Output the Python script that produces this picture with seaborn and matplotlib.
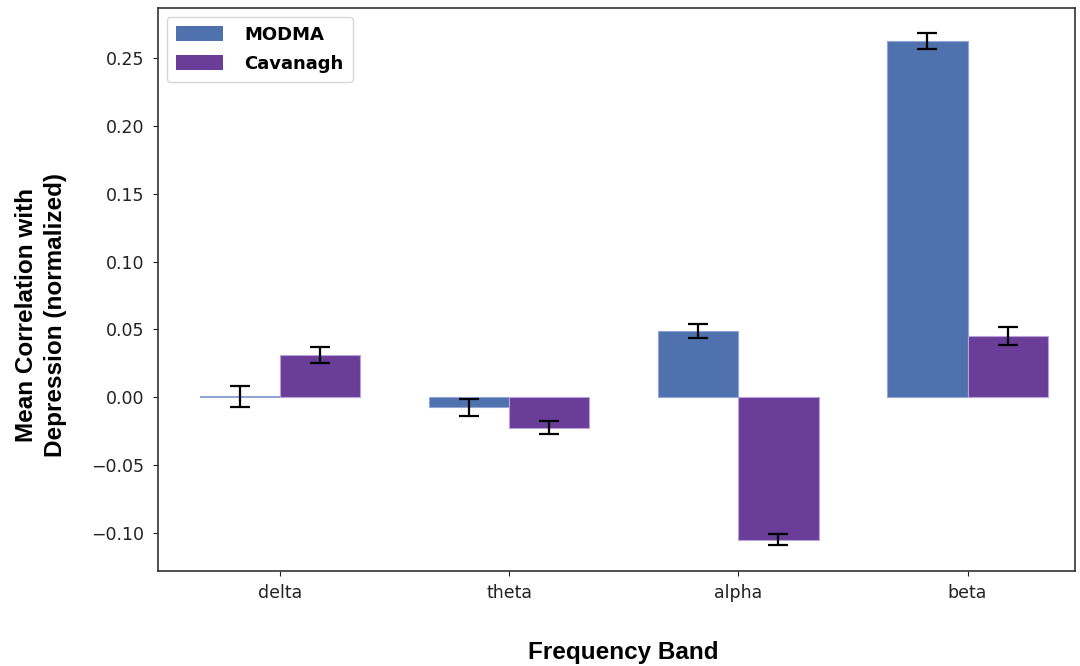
import pandas as pd
import numpy as np
import matplotlib
import matplotlib.pyplot as plt
import seaborn as sns

bands = ['delta', 'theta', 'alpha', 'beta']
datasets = ['MODMA', 'Cavanagh']
modma_mean = [0.0006, -0.0075, 0.0488, 0.2628]
modma_err = [0.0078, 0.0064, 0.0050, 0.0058]
cav_mean = [0.0310, -0.0225, -0.1050, 0.0450]
cav_err = [0.0060, 0.0050, 0.0040, 0.0068]
colors = ['#4F71AD', '#6A3D99']

df = pd.DataFrame({
    'band': bands * 2,
    'dataset': ['MODMA'] * 4 + ['Cavanagh'] * 4,
    'value': modma_mean + cav_mean,
})
errs = {'MODMA': modma_err, 'Cavanagh': cav_err}

fig = plt.figure(figsize=(10.8, 6.66), dpi=100)
ax = fig.add_axes([0.146, 0.143, 0.849, 0.845])

sns.barplot(data=df, x='band', y='value', hue='dataset', order=bands,
            hue_order=datasets, palette=colors, saturation=1, errorbar=None,
            width=0.7, linewidth=0.8, ax=ax)

# light outline in a paler shade of each bar colour
for cont, c in zip(ax.containers, ['#8fa6d6', '#b9a3d9']):
    for p in cont.patches:
        p.set_edgecolor(c)

# error bars at the bar centres
for cont, name in zip(ax.containers, datasets):
    xs = [p.get_x() + p.get_width() / 2 for p in cont.patches]
    ys = [p.get_height() for p in cont.patches]
    ax.errorbar(xs, ys, yerr=errs[name], fmt='none', ecolor='black',
                elinewidth=1.6, capsize=7, capthick=1.6)

ax.set_xlim(-0.533, 3.467)
ax.set_ylim(-0.128, 0.287)
ax.set_yticks([-0.10, -0.05, 0.00, 0.05, 0.10, 0.15, 0.20, 0.25])
ax.tick_params(labelsize=12.5, colors='#222222', pad=6)
for s in ax.spines.values():
    s.set_color('#333333')
    s.set_linewidth(1.2)

lab_font = {'family': ['Liberation Sans', 'DejaVu Sans'], 'weight': 'bold', 'size': 17.5}
ax.set_xlabel('Frequency Band', fontdict=lab_font)
ax.set_ylabel('Mean Correlation with\nDepression (normalized)', fontdict=lab_font,
              linespacing=1.35)
ax.xaxis.set_label_coords(0.508, -0.124)
ax.yaxis.set_label_coords(-0.099, 0.455)

ax.legend(loc='upper left', prop={'weight': 'bold', 'size': 13},
          handlelength=2.6, handleheight=0.9, handletextpad=1.2,
          borderpad=0.5, labelspacing=0.6)

plt.savefig('out.png')
